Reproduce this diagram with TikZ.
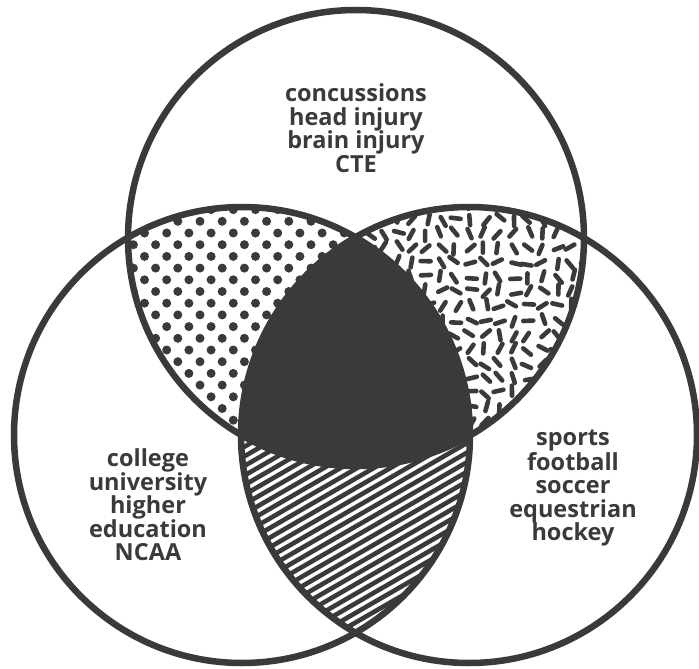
\documentclass[tikz,border=0pt]{standalone}
\usepackage{fontspec}
\setmainfont{Open Sans}
\usepackage{xcolor}
\definecolor{ink}{RGB}{58,58,60}
\tikzstyle{ring} = [draw=ink, line width=6.5pt]
\tikzstyle{term} = [align=center, text=ink, inner sep=0pt,
    font=\fontsize{23.5}{23.5}\selectfont\bfseries]
\tikzstyle{dotfill} = [fill=ink]
\tikzstyle{hatchline} = [draw=ink, line width=4.6pt]
\tikzstyle{grain} = [draw=ink, line width=4.6pt, line cap=round]
\newcommand{\rad}{228}

\begin{document}
\begin{tikzpicture}[x=1pt, y=-1pt]
\useasboundingbox (0,0) rectangle (699,669);
\coordinate (top) at (356,238);
\coordinate (lft) at (242,435);
\coordinate (rgt) at (469,435);

\begin{scope}
\clip (top) circle[radius=\rad];
\clip (lft) circle[radius=\rad];
\foreach \i in {-3,...,10}
  \foreach \j in {-2,...,10} {
    \fill[dotfill] (166.7+22.2*\i, 233+23.4*\j) circle[radius=4.5];
    \fill[dotfill] (177.8+22.2*\i, 244.7+23.4*\j) circle[radius=4.5];
  }
\end{scope}

\begin{scope}
\clip (lft) circle[radius=\rad];
\clip (rgt) circle[radius=\rad];
\foreach \k in {0,...,70}
  \draw[hatchline] (220, 240+9.6*\k) -- ++(300,-173.2);
\end{scope}

\begin{scope}
\clip (top) circle[radius=\rad];
\clip (rgt) circle[radius=\rad];
\pgfmathsetseed{11}
\foreach \x in {340,354.5,...,600}
  \foreach \y in {190,204.5,...,460} {
    \pgfmathsetmacro{\a}{rnd*180}
    \pgfmathsetmacro{\dx}{(rnd-0.5)*5}
    \pgfmathsetmacro{\dy}{(rnd-0.5)*5}
    \draw[grain] (\x+\dx,\y+\dy) ++(\a:5) -- ++({\a+180}:10);
  }
\end{scope}

\begin{scope}
\clip (top) circle[radius=\rad];
\clip (lft) circle[radius=\rad];
\fill[ink] (rgt) circle[radius=\rad];
\end{scope}

\draw[ring] (top) circle[radius=\rad];
\draw[ring] (lft) circle[radius=\rad];
\draw[ring] (rgt) circle[radius=\rad];

\node[term] (injury) at (356,128) {concussions\\head injury\\brain injury\\CTE};
\node[term] (campus) at (148,505) {college\\university\\higher\\education\\NCAA};
\node[term] (sport) at (573,488) {sports\\football\\soccer\\equestrian\\hockey};
\end{tikzpicture}
\end{document}
